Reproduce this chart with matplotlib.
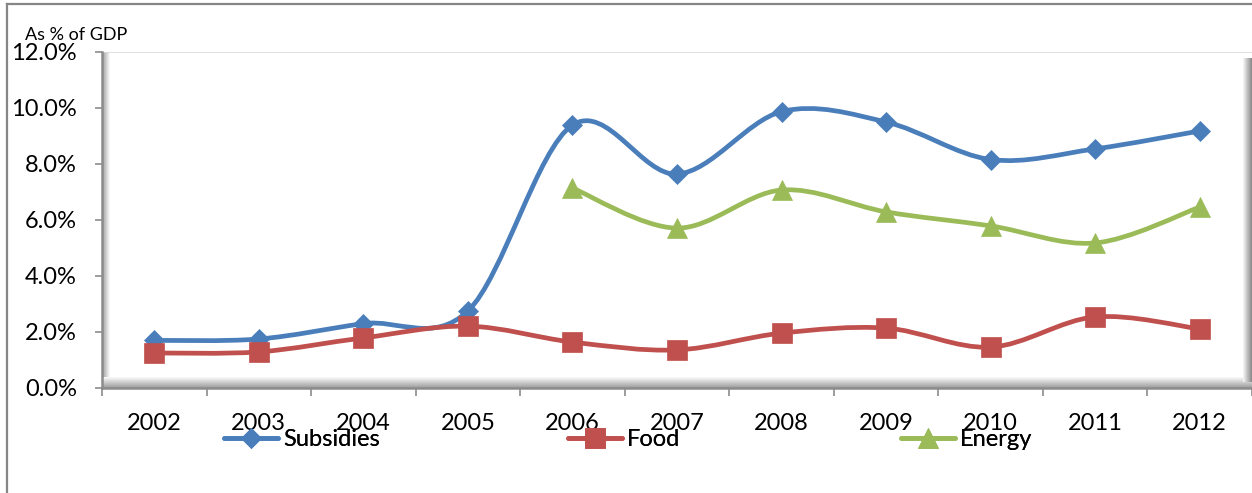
import numpy as np
import matplotlib.pyplot as plt
from matplotlib.path import Path
from matplotlib.patches import PathPatch, Rectangle
from matplotlib.lines import Line2D
from matplotlib.ticker import PercentFormatter

plt.rcParams['font.family'] = ['Lato', 'DejaVu Sans']

years = ['2002', '2003', '2004', '2005', '2006', '2007', '2008', '2009', '2010', '2011', '2012']
subsidies = [1.70, 1.75, 2.30, 2.75, 9.39, 7.64, 9.87, 9.50, 8.16, 8.54, 9.18]
food = [1.25, 1.29, 1.79, 2.21, 1.64, 1.36, 1.96, 2.14, 1.46, 2.54, 2.11]
energy_years = ['2006', '2007', '2008', '2009', '2010', '2011', '2012']
energy = [7.14, 5.71, 7.07, 6.29, 5.79, 5.18, 6.46]

blue = '#4A7EBB'
red = '#C0504D'
green = '#9BBB59'

W, H = 1252, 493
fig = plt.figure(figsize=(W / 100, H / 100), dpi=100)
ax = fig.add_axes([102 / W, 1 - 388 / H, 1150 / W, 336 / H])


def smooth_path(x, y):
    # Excel-style smoothed line: cubic Bezier segments through the points
    pts = np.column_stack([x, y]).astype(float)
    n = len(pts)
    verts = [pts[0]]
    codes = [Path.MOVETO]
    for i in range(n - 1):
        p0 = pts[i - 1] if i > 0 else pts[i]
        p1 = pts[i]
        p2 = pts[i + 1]
        p3 = pts[i + 2] if i + 2 < n else pts[i + 1]
        c1 = p1 + (p2 - p0) / 6.0
        c2 = p2 - (p3 - p1) / 6.0
        verts += [c1, c2, p2]
        codes += [Path.CURVE4] * 3
    return Path(verts, codes)


x_all = np.arange(len(years))
x_en = np.array([years.index(y) for y in energy_years])

series = [
    (x_all, subsidies, blue, 'D', 10.5, 'Subsidies'),
    (x_all, food, red, 's', 14, 'Food'),
    (x_en, energy, green, '^', 14.5, 'Energy'),
]

handles = []
for xs, ys, col, mk, ms, lab in series:
    ax.add_patch(PathPatch(smooth_path(xs, ys), facecolor='none', edgecolor=col,
                           lw=3.4, capstyle='round', joinstyle='round', zorder=3))
    ax.plot(xs, ys, linestyle='none', marker=mk, markersize=ms, color=col,
            markeredgecolor=col, markeredgewidth=0.5, zorder=4)
    handles.append(Line2D([], [], color=col, lw=3.4, marker=mk, markersize=ms,
                          markeredgewidth=0.5, solid_capstyle='round', label=lab))

ax.set_xlim(-0.5, len(years) - 0.5)
ax.set_ylim(0, 12)
ax.set_yticks(np.arange(0, 12.1, 2))
ax.yaxis.set_major_formatter(PercentFormatter(xmax=100, decimals=1))
ax.set_xticks(x_all)
ax.set_xticklabels(years)
ax.set_xticks(np.arange(-0.5, len(years), 1), minor=True)
ax.tick_params(axis='x', which='major', length=0, pad=18, labelsize=17)
ax.tick_params(axis='x', which='minor', length=6, width=1.2, color='#8c8c8c')
ax.tick_params(axis='y', length=5, width=1.2, color='#8c8c8c', pad=13, labelsize=17)

for s in ['top', 'right']:
    ax.spines[s].set_visible(False)
ax.spines['left'].set_color('#8c8c8c')
ax.spines['left'].set_linewidth(1.8)
ax.spines['bottom'].set_color('#8c8c8c')
ax.spines['bottom'].set_linewidth(1.8)

# 3-d looking wall and floor shading
aw, ah = 1150.0, 336.0
tr = ax.transAxes
for i in range(8):
    g = 0.62 + 0.05 * i
    ax.add_patch(Rectangle((i / aw, 0), 1 / aw, 1, transform=tr, color=str(min(g, 1)),
                           lw=0, zorder=1))
for i in range(11):
    g = 0.62 + 0.035 * i
    ax.add_patch(Rectangle((0, i / ah), 1, 1 / ah, transform=tr, color=str(min(g, 1)),
                           lw=0, zorder=1))
for i in range(9):
    g = 0.55 + 0.05 * i
    ax.add_patch(Rectangle((1 - (i + 1) / aw, 6 / ah), 1 / aw, 1 - 12 / ah, transform=tr,
                           color=str(min(g, 1)), lw=0, zorder=1))
ax.add_line(Line2D([0, 1], [1, 1], transform=tr, color='#d9d9d9', lw=1.2, zorder=1))

fig.text(25 / W, 1 - 35 / H, 'As % of GDP', fontsize=13, va='center', ha='left')

# legend entries below the axis
leg_x = [224, 568, 901]
for h, lx in zip(handles, leg_x):
    leg = fig.legend(handles=[h], loc='center left', bbox_to_anchor=(lx / W, 1 - 440 / H),
                     frameon=False, fontsize=17, handlelength=2.3, handletextpad=0.2,
                     borderpad=0, borderaxespad=0)
    fig.add_artist(leg)

# outer chart frame
fig.add_artist(Line2D([7 / W, 7 / W], [0, 1 - 4 / H], color='#868686', lw=1.6))
fig.add_artist(Line2D([7 / W, 1], [1 - 4 / H, 1 - 4 / H], color='#868686', lw=1.6))

fig.savefig('out.png', dpi=100)
